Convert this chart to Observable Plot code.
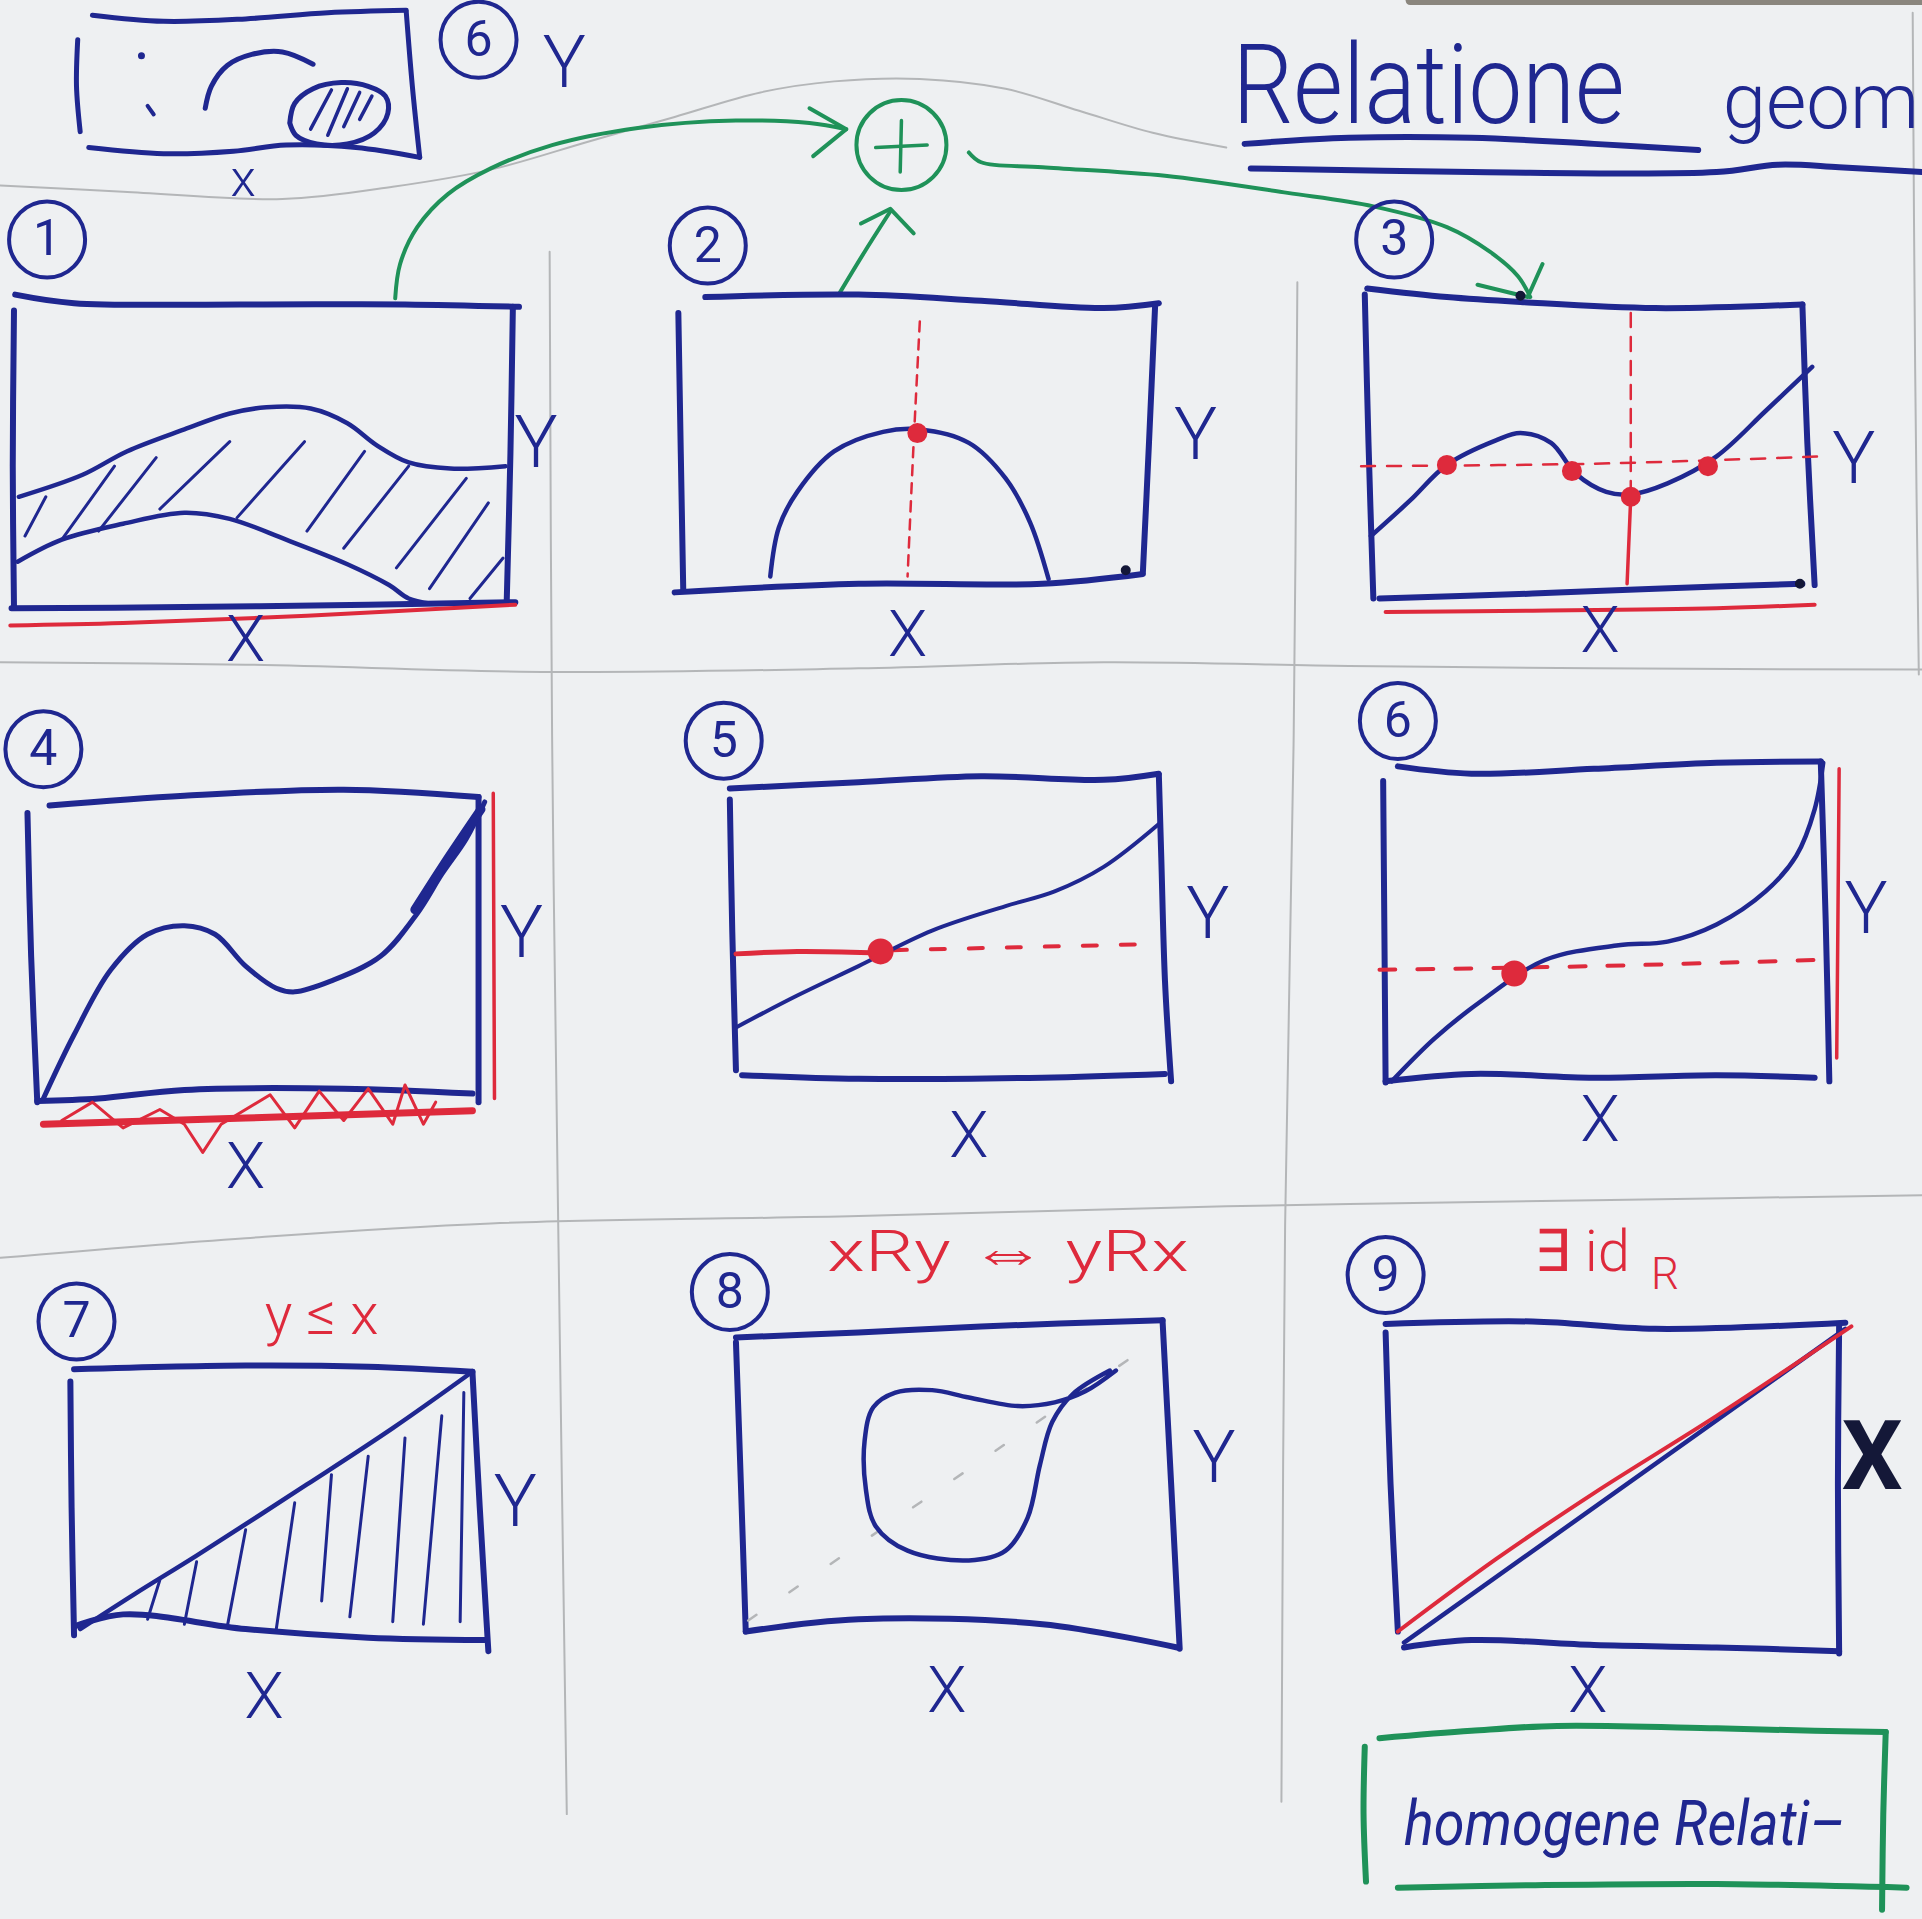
<!DOCTYPE html>
<html>
<head>
<meta charset="utf-8">
<script src="https://cdn.jsdelivr.net/npm/d3@7"></script>
<script src="https://cdn.jsdelivr.net/npm/@observablehq/plot@0.6"></script>
<style>
  html, body { margin: 0; padding: 0; background: #eef0f2; overflow: hidden; }
  #chart { width: 1922px; height: 1919px; }
</style>
</head>
<body>
<div id="chart"></div>
<script>
// ---- sheet units (sketch coordinates, origin top-left) ----
const W = 1922, H = 1919;
const SX = 1568, SY = 1566;
const k = W / SX;

// ---------- header ----------
const titleWords = ["Relatione", "geom"];
const titleUnder1 = [[1015,117],[1100,112],[1200,112],[1300,117],[1385,122]];
const titleUnder2 = [[1020,137],[1200,140],[1400,140],[1450,134],[1500,136],[1568,140]];

const miniBoxTop = [[75,12],[133,17],[200,15],[267,10],[331,8]];
const miniBoxRight = [[331,9],[336,70],[342,128]];
const miniBoxBottom = [[72,120],[133,125],[190,123],[233,118],[290,120],[342,128]];
const miniBoxLeft = [[63,32],[62,70],[65,107]];
const miniArc = [[167,88],[172,70],[185,53],[205,44],[230,42],[255,52]];
const miniEllipse = [[236,100],[240,84],[255,72],[278,67],[300,70],[314,78],[316,92],[305,108],[283,117],[258,117],[241,110],[236,100]];
const miniHatch = [[253,105,270,73],[267,110,283,72],[280,103,293,75],[293,97,303,78]];
const miniDots = [[115,45]];
const miniDash = [[120,86],[125,93]];

const pencilTop = [[0,151],[100,156],[230,162],[320,152],[400,138],[480,115],[550,95],[620,75],[680,66],[750,64],[820,72],[880,90],[940,108],[1000,120]];
const pencilRow1 = [[0,540],[200,542],[450,548],[700,545],[900,540],[1100,543],[1300,545],[1568,546]];
const pencilRow2 = [[0,1026],[200,1010],[400,998],[700,992],[1000,984],[1300,979],[1568,975]];
const pencilCol1 = [[448,205],[450,600],[455,1000],[462,1480]];
const pencilCol2 = [[1058,230],[1055,600],[1048,1000],[1045,1470]];
const pencilEdge = [[1560,10],[1562,300],[1565,550]];
const photoStrip = [[1150,0],[1568,0]];

const greenArrow1 = [[322,243],[326,215],[340,185],[365,158],[400,137],[450,118],[520,104],[600,98],[660,100],[690,105]];
const greenHead1 = [[660,88],[690,105],[663,127]];
const greenArrow2 = [[685,238],[705,205],[726,172]];
const greenHead2 = [[702,182],[726,170],[745,190]];
const greenArrow3 = [[790,124],[800,132],[850,136],[950,143],[1050,157],[1120,168],[1180,185],[1215,205],[1238,225],[1248,242]];
const greenHead3 = [[1205,232],[1246,242],[1258,215]];
const greenCircle = [[735,118]];
const greenPlus = [[735,98,734,140],[714,120,756,118]];
const greenBoxTop = [[1125,1418],[1200,1412],[1270,1408],[1400,1410],[1480,1412],[1538,1413]];
const greenBoxRight = [[1538,1413],[1536,1480],[1535,1558]];
const greenBoxBottom = [[1140,1540],[1250,1538],[1400,1537],[1555,1540]];
const greenBoxLeft = [[1113,1425],[1112,1480],[1114,1535]];
const boxText = "homogene Relati–";

// ---------- panel labels ----------
const circleNumbers = [
  {n:"1", x:38, y:195}, {n:"2", x:577, y:200}, {n:"3", x:1137, y:195},
  {n:"4", x:35, y:611}, {n:"5", x:590, y:604}, {n:"6", x:1140, y:588},
  {n:"7", x:62, y:1078}, {n:"8", x:595, y:1054}, {n:"9", x:1130, y:1040},
  {n:"6", x:390, y:32}
];
const axisX = [[200,522],[740,518],[1305,515],[200,952],[790,927],[1305,914],[215,1385],[772,1380],[1295,1380]];
const axisY = [[437,362],[975,355],[1512,375],[425,762],[985,746],[1522,742],[420,1226],[990,1190],[460,52]];
const redLabels = [{t:"y ≤ x", x:262, y:1073}, {t:"xRy ⇔ yRx", x:822, y:1022}, {t:"∃ id", x:1290, y:1022}];
const redSub = [{t:"R", x:1358, y:1040}];

// ---------- panel 1 ----------
const p1Top = [[12,240],[60,247],[200,248],[330,248],[423,250]];
const p1Right = [[418,250],[416,370],[413,490]];
const p1Left = [[11,253],[10,380],[11,495]];
const p1Bottom = [[9,496],[150,495],[300,493],[420,491]];
const p1Red = [[8,510],[100,508],[250,502],[420,493]];
const p1Upper = [[15,405],[67,387],[103,368],[150,350],[187,337],[217,332],[253,333],[283,345],[307,363],[333,377],[367,382],[412,380]];
const p1Lower = [[14,458],[50,440],[100,427],[150,418],[187,423],[233,440],[283,460],[317,477],[333,488],[350,492]];
const p1Hatch = [[20,437,37,405],[50,440,93,380],[80,433,127,373],[130,415,187,360],[193,422,248,360],[250,433,297,368],[280,447,333,380],[323,463,380,390],[350,480,398,410],[383,488,410,455]];

// ---------- panel 2 ----------
const p2Top = [[575,242],[700,240],[800,245],[900,251],[945,247]];
const p2Right = [[942,248],[937,360],[932,466]];
const p2Left = [[553,255],[555,370],[557,481]];
const p2Bottom = [[550,483],[700,476],[850,476],[932,468]];
const p2Curve = [[628,470],[635,430],[650,401],[680,368],[720,352],[750,350],[790,361],[820,390],[840,426],[855,472]];
const p2RedDash = [[750,262],[745,360],[740,470]];
const p2RedDots = [[748,353]];
const p2BlackDots = [[918,465]];

// ---------- panel 3 ----------
const p3Top = [[1115,235],[1180,242],[1240,246],[1350,251],[1470,248]];
const p3Right = [[1470,248],[1474,360],[1480,477]];
const p3Left = [[1113,240],[1116,360],[1120,488]];
const p3Bottom = [[1125,488],[1250,484],[1350,480],[1470,476]];
const p3Red = [[1130,499],[1250,498],[1400,496],[1480,493]];
const p3Curve = [[1118,437],[1150,408],[1180,379],[1220,359],[1240,353],[1265,361],[1285,386],[1310,401],[1330,403],[1360,394],[1400,372],[1440,335],[1478,299]];
const p3RedDashH = [[1110,380],[1300,378],[1485,372]];
const p3RedDashV = [[1330,255],[1330,400]];
const p3RedV = [[1330,405],[1327,476]];
const p3RedDots = [[1180,379],[1282,384],[1330,405],[1393,380]];
const p3BlackDots = [[1240,241],[1468,476]];

// ---------- panel 4 ----------
const p4Top = [[40,657],[150,649],[280,644],[390,650]];
const p4Right = [[390,650],[390,780],[390,899]];
const p4Left = [[22,663],[25,780],[30,899]];
const p4Bottom = [[30,898],[80,896],[150,889],[280,888],[385,892]];
const p4RedV = [[402,647],[403,896]];
const p4RedH = [[35,917],[200,912],[385,906]];
const p4Zigzag = [[50,914],[75,899],[100,920],[130,905],[150,917],[165,940],[180,917],[220,893],[240,920],[260,890],[280,914],[300,888],[320,917],[330,885],[345,917],[355,899]];
const p4Curve = [[35,896],[60,844],[90,791],[120,762],[150,755],[175,762],[200,788],[225,806],[240,809],[270,800],[310,780],[340,745],[360,713],[380,684],[395,654]];
const p4Thick = [[338,742],[365,700],[392,660]];

// ---------- panel 5 ----------
const p5Top = [[595,643],[700,638],[800,633],[900,636],[945,631]];
const p5Right = [[945,632],[947,700],[950,800],[955,882]];
const p5Left = [[595,652],[597,760],[600,873]];
const p5Bottom = [[605,877],[700,880],[850,879],[950,876]];
const p5Line = [[600,838],[650,812],[700,788],[760,759],[820,739],[860,727],[900,707],[945,672]];
const p5RedSolid = [[600,778],[650,776],[710,777]];
const p5RedDash = [[728,775],[940,770]];
const p5RedDots = [[718,776]];

// ---------- panel 6 ----------
const p6Top = [[1140,625],[1200,631],[1300,627],[1400,622],[1485,621]];
const p6Right = [[1485,621],[1489,750],[1492,882]];
const p6Left = [[1128,637],[1129,760],[1130,883]];
const p6Bottom = [[1130,882],[1200,876],[1300,879],[1400,877],[1480,879]];
const p6RedV = [[1500,627],[1499,750],[1498,863]];
const p6Curve = [[1135,882],[1170,847],[1210,815],[1260,783],[1320,771],[1360,768],[1400,754],[1440,727],[1465,698],[1480,660],[1487,622]];
const p6RedDash = [[1125,791],[1300,788],[1480,783]];
const p6RedDots = [[1235,794]];

// ---------- panel 7 ----------
const p7Top = [[60,1117],[200,1114],[300,1115],[385,1119]];
const p7Right = [[385,1119],[391,1230],[398,1347]];
const p7Left = [[57,1127],[58,1230],[60,1334]];
const p7Bottom = [[60,1327],[100,1317],[200,1329],[300,1336],[395,1338]];
const p7Diag = [[65,1329],[110,1300],[160,1269],[250,1211],[320,1165],[385,1119]];
const p7Hatch = [[130,1289,120,1321],[160,1274,150,1325],[200,1248,185,1327],[240,1226,225,1329],[270,1203,262,1306],[300,1188,285,1319],[330,1173,320,1323],[360,1155,345,1325],[378,1136,375,1323]];

// ---------- panel 8 ----------
const p8Top = [[600,1091],[700,1087],[800,1082],[948,1077]];
const p8Right = [[948,1077],[955,1210],[962,1345]];
const p8Left = [[600,1095],[604,1210],[608,1331]];
const p8Bottom = [[608,1331],[700,1321],[850,1325],[960,1344]];
const p8Blob = [[910,1118],[885,1135],[860,1144],[830,1147],[790,1140],[760,1134],[730,1136],[712,1148],[705,1175],[706,1215],[714,1245],[740,1265],[790,1273],[820,1265],[838,1238],[848,1195],[858,1160],[875,1137],[905,1118]];
const p8Diag = [[610,1322],[945,1092]];

// ---------- panel 9 ----------
const p9Top = [[1130,1080],[1250,1078],[1350,1084],[1505,1079]];
const p9Right = [[1500,1080],[1499,1210],[1500,1349]];
const p9Left = [[1130,1087],[1134,1210],[1140,1331]];
const p9Bottom = [[1145,1344],[1200,1338],[1300,1342],[1400,1344],[1500,1347]];
const p9Blue = [[1145,1340],[1505,1084]];
const p9Red = [[1140,1331],[1220,1272],[1300,1218],[1400,1155],[1510,1082]];
const p9BlackX = [[1527,1190]];

// ---------- styles ----------
const BLUE = "#1f2790", RED = "#de2a3c", GREEN = "#1f9259", PENCIL = "#b4b6b8", DARK = "#141838";

const P = a => a.map(([x, y]) => ({x, y}));
const L = a => a.map(([x1, y1, x2, y2]) => ({x1, y1, x2, y2}));
const line = (a, o = {}) => Plot.line(P(a), {x: "x", y: "y", curve: "catmull-rom", stroke: BLUE, strokeWidth: 4, strokeLinecap: "round", strokeLinejoin: "round", ...o});
const links = (a, o = {}) => Plot.link(L(a), {x1: "x1", y1: "y1", x2: "x2", y2: "y2", stroke: BLUE, strokeWidth: 3, strokeLinecap: "round", ...o});
const dots = (a, o = {}) => Plot.dot(P(a), {x: "x", y: "y", r: 9, fill: RED, stroke: RED, strokeWidth: 2, ...o});
const frame = (parts, w = 6) => parts.map(p => line(p, {strokeWidth: w}));

const marks = [
  // paper details
  line(photoStrip, {stroke: "#8a867e", strokeWidth: 9, curve: "linear"}),
  ...[pencilTop, pencilRow1, pencilRow2, pencilCol1, pencilCol2, pencilEdge].map(p => line(p, {stroke: PENCIL, strokeWidth: 2})),

  // header mini sketch
  ...frame([miniBoxTop, miniBoxRight, miniBoxBottom, miniBoxLeft], 5),
  line(miniArc, {strokeWidth: 5}),
  line(miniEllipse, {strokeWidth: 5}),
  links(miniHatch, {strokeWidth: 3.5}),
  dots(miniDots, {r: 2.5, fill: BLUE, stroke: BLUE}),
  line(miniDash, {strokeWidth: 4}),
  Plot.text([{t: "x", x: 198, y: 146}], {x: "x", y: "y", text: "t", fill: BLUE, fontSize: 52, fontFamily: "Roboto", fontWeight: 300}),

  // title
  Plot.text([{t: titleWords[0], x: 1005, y: 100}], {x: "x", y: "y", text: "t", fill: BLUE, fontSize: 112, fontFamily: "Roboto", fontWeight: 300, textAnchor: "start", lineAnchor: "bottom"}),
  Plot.text([{t: titleWords[1], x: 1405, y: 104}], {x: "x", y: "y", text: "t", fill: BLUE, fontSize: 78, fontFamily: "Roboto", fontWeight: 300, textAnchor: "start", lineAnchor: "bottom"}),
  line(titleUnder1, {strokeWidth: 6}),
  line(titleUnder2, {strokeWidth: 6}),

  // green arrows & box
  line(greenArrow1, {stroke: GREEN, strokeWidth: 4}),
  line(greenHead1, {stroke: GREEN, strokeWidth: 4, curve: "linear"}),
  line(greenArrow2, {stroke: GREEN, strokeWidth: 4}),
  line(greenHead2, {stroke: GREEN, strokeWidth: 4, curve: "linear"}),
  line(greenArrow3, {stroke: GREEN, strokeWidth: 4}),
  line(greenHead3, {stroke: GREEN, strokeWidth: 4, curve: "linear"}),
  Plot.dot(P(greenCircle), {x: "x", y: "y", r: 45, stroke: GREEN, strokeWidth: 4, fill: "none"}),
  links(greenPlus, {stroke: GREEN, strokeWidth: 3.5}),
  ...[greenBoxTop, greenBoxRight, greenBoxBottom, greenBoxLeft].map(p => line(p, {stroke: GREEN, strokeWidth: 6})),
  Plot.text([{t: boxText, x: 1145, y: 1505}], {x: "x", y: "y", text: "t", fill: BLUE, fontSize: 62, fontFamily: "Roboto", fontWeight: 400, fontStyle: "italic", textAnchor: "start", lineAnchor: "bottom"}),

  // panel 1
  ...frame([p1Top, p1Right, p1Left, p1Bottom]),
  line(p1Red, {stroke: RED, strokeWidth: 4}),
  line(p1Upper, {strokeWidth: 4.5}),
  line(p1Lower, {strokeWidth: 4.5}),
  links(p1Hatch),

  // panel 2
  ...frame([p2Top, p2Right, p2Left, p2Bottom]),
  line(p2Curve, {strokeWidth: 4.5}),
  line(p2RedDash, {stroke: RED, strokeWidth: 2.5, strokeDasharray: "10,8"}),
  dots(p2RedDots, {r: 9}),
  dots(p2BlackDots, {r: 4, fill: DARK, stroke: DARK}),

  // panel 3
  ...frame([p3Top, p3Right, p3Left, p3Bottom]),
  line(p3Red, {stroke: RED, strokeWidth: 4}),
  line(p3RedDashH, {stroke: RED, strokeWidth: 2.5, strokeDasharray: "14,12"}),
  line(p3RedDashV, {stroke: RED, strokeWidth: 2.5, strokeDasharray: "14,10"}),
  line(p3RedV, {stroke: RED, strokeWidth: 3.5}),
  line(p3Curve, {strokeWidth: 4.5}),
  dots(p3RedDots, {r: 9}),
  dots(p3BlackDots, {r: 4, fill: DARK, stroke: DARK}),

  // panel 4
  ...frame([p4Top, p4Right, p4Left, p4Bottom]),
  line(p4RedV, {stroke: RED, strokeWidth: 3.5}),
  line(p4RedH, {stroke: RED, strokeWidth: 7}),
  line(p4Zigzag, {stroke: RED, strokeWidth: 3, curve: "linear"}),
  line(p4Curve, {strokeWidth: 5}),
  line(p4Thick, {strokeWidth: 9}),

  // panel 5
  ...frame([p5Top, p5Right, p5Left, p5Bottom]),
  line(p5RedSolid, {stroke: RED, strokeWidth: 5}),
  line(p5RedDash, {stroke: RED, strokeWidth: 4, strokeDasharray: "14,24"}),
  line(p5Line, {strokeWidth: 4}),
  dots(p5RedDots, {r: 12}),

  // panel 6
  ...frame([p6Top, p6Right, p6Left, p6Bottom]),
  line(p6RedV, {stroke: RED, strokeWidth: 3.5}),
  line(p6RedDash, {stroke: RED, strokeWidth: 4, strokeDasharray: "16,22"}),
  line(p6Curve, {strokeWidth: 4.5}),
  dots(p6RedDots, {r: 12}),

  // panel 7
  ...frame([p7Top, p7Right, p7Left, p7Bottom]),
  line(p7Diag, {strokeWidth: 4.5}),
  links(p7Hatch),

  // panel 8
  ...frame([p8Top, p8Right, p8Left, p8Bottom]),
  line(p8Diag, {stroke: PENCIL, strokeWidth: 2.5, strokeDasharray: "10,40", curve: "linear"}),
  line(p8Blob, {strokeWidth: 4.5}),

  // panel 9
  ...frame([p9Top, p9Right, p9Left, p9Bottom]),
  line(p9Blue, {strokeWidth: 4.5, curve: "linear"}),
  line(p9Red, {stroke: RED, strokeWidth: 4}),
  Plot.text(P(p9BlackX), {x: "x", y: "y", text: () => "X", fill: DARK, fontSize: 96, fontFamily: "Roboto", fontWeight: 700}),

  // circled numbers
  Plot.dot(circleNumbers, {x: "x", y: "y", r: 38, stroke: BLUE, strokeWidth: 4, fill: "none"}),
  Plot.text(circleNumbers, {x: "x", y: "y", text: "n", fill: BLUE, fontSize: 50, fontFamily: "Roboto", fontWeight: 400}),

  // axis letters
  Plot.text(P(axisX), {x: "x", y: "y", text: () => "X", fill: BLUE, fontSize: 64, fontFamily: "Roboto", fontWeight: 300}),
  Plot.text(P(axisY), {x: "x", y: "y", text: () => "Y", fill: BLUE, fontSize: 72, fontFamily: "Roboto", fontWeight: 300}),

  // red annotations
  Plot.text(redLabels, {x: "x", y: "y", text: "t", fill: RED, fontSize: 58, fontFamily: "Roboto", fontWeight: 300}),
  Plot.text(redSub, {x: "x", y: "y", text: "t", fill: RED, fontSize: 44, fontFamily: "Roboto", fontWeight: 300})
];

const svg = Plot.plot({
  width: W, height: H,
  margin: 0,
  x: {domain: [0, SX], range: [0, W], axis: null},
  y: {domain: [0, SY], range: [0, H], axis: null},
  style: {background: "#eef0f2", overflow: "hidden"},
  marks
});

// squeeze handwritten-looking words to their drawn lengths
d3.select(svg).selectAll("text").each(function () {
  const t = this.textContent;
  const len = {"Relatione": 320, "homogene Relati–": 360, "xRy ⇔ yRx": 295}[t];
  if (len) {
    d3.select(this).attr("textLength", len * k).attr("lengthAdjust", "spacingAndGlyphs");
  }
});

document.getElementById("chart").appendChild(svg);
</script>
</body>
</html>
